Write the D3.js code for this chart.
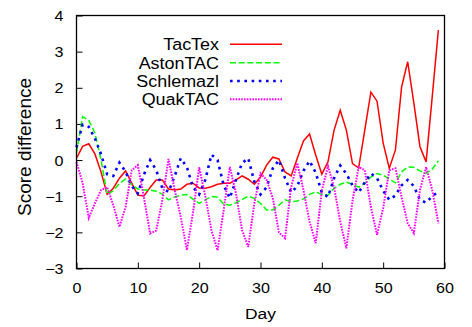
<!DOCTYPE html>
<html>
<head>
<meta charset="utf-8">
<script src="https://cdn.jsdelivr.net/npm/d3@7"></script>
<style>
  html, body { margin: 0; padding: 0; background: #fff; }
  svg { display: block; }
  text { font-family: "Liberation Sans", Arial, sans-serif; fill: #000; }
</style>
</head>
<body>
<svg id="chart" width="472" height="327"></svg>
<script>
// ---- data ----
const days = d3.range(0, 60);
const seriesNames = ["TacTex", "AstonTAC", "Schlemazl", "QuakTAC"];
const tactex = [0.05,0.38,0.45,0.17,-0.33,-0.95,-0.78,-0.5,-0.3,-0.64,
  -0.97,-0.99,-0.76,-0.55,-0.55,-0.8,-0.83,-0.8,-0.67,-0.64,
  -0.77,-0.78,-0.74,-0.67,-0.64,-0.64,-0.55,-0.44,-0.53,-0.67,
  -0.47,-0.14,0.08,0.03,-0.33,-0.44,0.05,0.53,0.72,0.14,
  -0.39,-0.05,0.83,1.38,0.83,-0.1,-0.22,0.83,1.88,1.63,
  0.47,-0.23,0.28,2.02,2.72,1.58,0.37,-0.05,1.75,3.6];
const astontac = [0.2,1.2,1.1,0.75,0.0,-0.95,-0.85,-0.65,-0.52,-0.68,
  -0.8,-0.83,-0.83,-0.86,-0.94,-1.1,-1.02,-0.97,-0.95,-1.08,
  -1.2,-1.1,-1.01,-1.03,-1.22,-1.25,-1.18,-1.09,-1.0,-1.06,
  -1.2,-1.38,-1.38,-1.25,-1.1,-1.15,-1.13,-1.08,-0.95,-0.88,
  -0.95,-0.97,-0.78,-0.67,-0.61,-0.67,-0.75,-0.65,-0.47,-0.37,
  -0.42,-0.53,-0.63,-0.33,-0.19,-0.2,-0.3,-0.37,-0.25,-0.02];
const schlemazl = [0.35,0.98,0.92,0.6,0.16,-0.39,-0.44,-0.07,-0.32,-0.72,
  -0.92,-0.4,0.0,-0.28,-0.78,-0.88,-0.45,0.05,-0.2,-0.75,
  -0.95,-0.55,0.15,0.0,-0.7,-1.05,-0.55,-0.08,0.05,-0.6,
  -0.95,-0.75,-0.23,0.0,-0.5,-0.9,-0.72,-0.3,-0.02,-0.35,
  -0.9,-1.02,-0.5,-0.15,-0.38,-0.7,-0.9,-0.62,-0.37,-0.5,
  -0.85,-1.1,-0.98,-0.7,-0.55,-0.72,-1.1,-1.18,-1.0,-0.88];
const quaktac = [-0.05,-0.64,-1.6,-1.2,-0.83,-0.75,-1.25,-1.85,-1.3,-0.28,
  -0.14,-1.04,-2.03,-1.95,-1.1,0.03,-0.83,-1.57,-2.49,-1.45,
  -0.2,-1.0,-1.94,-2.5,-1.38,-0.19,-0.92,-1.94,-2.4,-1.2,
  -0.37,-0.55,-1.05,-2.0,-2.16,-0.75,-0.08,-0.83,-1.7,-2.3,
  -0.85,-0.17,-0.75,-1.7,-2.44,-1.13,-0.19,-0.28,-1.3,-2.07,
  -1.33,-0.28,-0.23,-1.02,-1.75,-2.02,-0.83,-0.19,-0.83,-1.75];
const xTicks = [0, 10, 20, 30, 40, 50, 60];
const yTicks = [-3, -2, -1, 0, 1, 2, 3, 4];
const xLabel = "Day";
const yLabel = "Score difference";

// ---- styles ----
const styles = [
  { color: "#ff0000", dash: null, width: 1.5 },
  { color: "#00ff00", dash: "6,2.7", width: 1.5 },
  { color: "#0000ff", dash: "2.6,4.6", width: 2.6 },
  { color: "#ff00ff", dash: "1.6,1.2", width: 2 }
];
const values = [tactex, astontac, schlemazl, quaktac];

const svg = d3.select("#chart");
const pL = 76.5, pR = 444.5, pT = 15.5, pB = 268.5;

const x = d3.scaleLinear().domain([0, 60]).range([pL, pR]);
const y = d3.scaleLinear().domain([-3, 4]).range([pB, pT]);
const fmt = d3.format("d");

// axes
const tickSX = 1.15;
const xAxis = d3.axisBottom(x).tickValues(xTicks).tickFormat(fmt).tickSizeInner(-6).tickSizeOuter(0);
const gx = svg.append("g").attr("transform", `translate(0,${pB})`).call(xAxis);
gx.select(".domain").remove();
gx.selectAll(".tick line").attr("stroke", "#000").attr("stroke-width", 1);
gx.selectAll(".tick text").attr("font-size", 14).attr("font-family", "Liberation Sans")
  .attr("dy", 0).attr("y", 24.5).attr("transform", `scale(${tickSX},1)`);

const yAxis = d3.axisLeft(y).tickValues(yTicks).tickFormat(fmt).tickSizeInner(-6).tickSizeOuter(0);
const gy = svg.append("g").attr("transform", `translate(${pL},0)`).call(yAxis);
gy.select(".domain").remove();
gy.selectAll(".tick line").attr("stroke", "#000").attr("stroke-width", 1);
gy.selectAll(".tick text").attr("font-size", 14).attr("font-family", "Liberation Sans")
  .attr("x", -13 / tickSX).attr("dy", "0.36em").attr("transform", `scale(${tickSX},1)`);

// series
const line = d3.line().x((d, i) => x(days[i])).y(d => y(d));
const plot = svg.append("g");
values.forEach((vals, k) => {
  const s = styles[k];
  const p = plot.append("path").datum(vals)
    .attr("d", line)
    .attr("fill", "none")
    .attr("stroke", s.color)
    .attr("stroke-width", s.width)
    .attr("stroke-linejoin", "miter");
  if (s.dash) p.attr("stroke-dasharray", s.dash);
});

// frame
svg.append("rect")
  .attr("x", pL).attr("y", pT)
  .attr("width", pR - pL).attr("height", pB - pT)
  .attr("fill", "none").attr("stroke", "#000").attr("stroke-width", 1.3);

// legend
const legY0 = 44.3, legStep = 18.35;
const leg = svg.append("g");
seriesNames.forEach((name, k) => {
  const s = styles[k];
  const yy = legY0 + k * legStep;
  leg.append("text")
    .attr("transform", `translate(219,${yy}) scale(1.1,1)`)
    .attr("dy", "0.36em")
    .attr("text-anchor", "end").attr("font-size", 16.3)
    .text(name);
  const l = leg.append("line")
    .attr("x1", 230).attr("x2", 282).attr("y1", yy).attr("y2", yy)
    .attr("stroke", s.color).attr("stroke-width", s.width);
  if (s.dash) l.attr("stroke-dasharray", s.dash);
});

// axis titles
svg.append("text")
  .attr("transform", `translate(${(pL + pR) / 2},319) scale(1.12,1)`)
  .attr("text-anchor", "middle").attr("font-size", 15.5)
  .text(xLabel);
svg.append("text")
  .attr("transform", "translate(31,147) rotate(-90)")
  .attr("text-anchor", "middle").attr("font-size", 19)
  .text(yLabel);
</script>
</body>
</html>
